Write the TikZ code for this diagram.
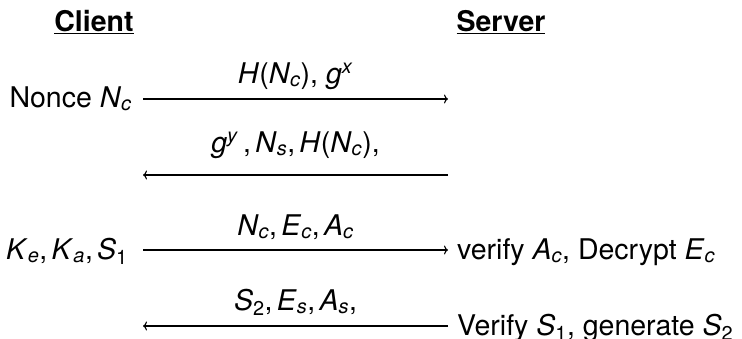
\documentclass[tikz,border=0pt]{standalone}
\usepackage{fontspec}
\setmainfont{TeX Gyre Heros}
\usetikzlibrary{arrows.meta}
\newcommand\mi[1]{\textit{#1}}
\newcommand\lo[1]{\textsubscript{\textit{#1}}}
\newcommand\lon[1]{\textsubscript{#1}}
\newcommand\hi[1]{\textsuperscript{\textit{#1}}}
\newcommand\cm{,\hspace{0.15em}}
\begin{document}
\begin{tikzpicture}[x=1pt,y=1pt,
  every node/.style={inner sep=0pt, font=\fontsize{28.5}{34}\selectfont},
  msg/.style={line width=1.1pt, -{To[length=4pt,width=9pt]}},
  above label/.style={anchor=base, yshift=#1},
  left label/.style={anchor=base east},
  right label/.style={anchor=base west}]
\useasboundingbox (0,0) rectangle (742,-338);
\node[anchor=base] (client) at (94,-31) {\underline{\textbf{Client}}};
\node[anchor=base] (server) at (501,-31) {\underline{\textbf{Server}}};
\coordinate (c1) at (143,-99);  \coordinate (s1) at (448,-99);
\coordinate (c2) at (143,-175); \coordinate (s2) at (448,-175);
\coordinate (c3) at (143,-250); \coordinate (s3) at (448,-250);
\coordinate (c4) at (143,-326); \coordinate (s4) at (448,-326);
\draw[msg] (c1) -- node[above label=16pt] (m1) {\mi{H}(\mi{N}\lo{c}), \mi{g}\hi{x}} (s1);
\draw[msg] (s2) -- node[above label=23pt] (m2) {\mi{g}\hi{y}\,\cm\mi{N}\lo{s}\cm\mi{H}(\mi{N}\lo{c}),} (c2);
\draw[msg] (c3) -- node[above label=15pt] (m3) {\mi{N}\lo{c}\cm\mi{E}\lo{c}\cm\mi{A}\lo{c}} (s3);
\draw[msg] (s4) -- node[above label=16pt] (m4) {\mi{S}\lon{2}\cm\mi{E}\lo{s}\cm\mi{A}\lo{s},} (c4);
\node[left label] (l1) at ([xshift=-11pt,yshift=-8pt]c1) {Nonce \mi{N}\lo{c}};
\node[left label] (l3) at ([xshift=-15pt,yshift=-9pt]c3) {\mi{K}\lo{e}\cm\mi{K}\lo{a}\cm\mi{S}\lon{1}};
\node[right label] (r3) at ([xshift=9pt,yshift=-9pt]s3) {verify \mi{A}\lo{c}, Decrypt \mi{E}\lo{c}};
\node[right label] (r4) at ([xshift=9pt,yshift=-9pt]s4) {Verify \mi{S}\lon{1}, generate \mi{S}\lon{2}};
\end{tikzpicture}
\end{document}
